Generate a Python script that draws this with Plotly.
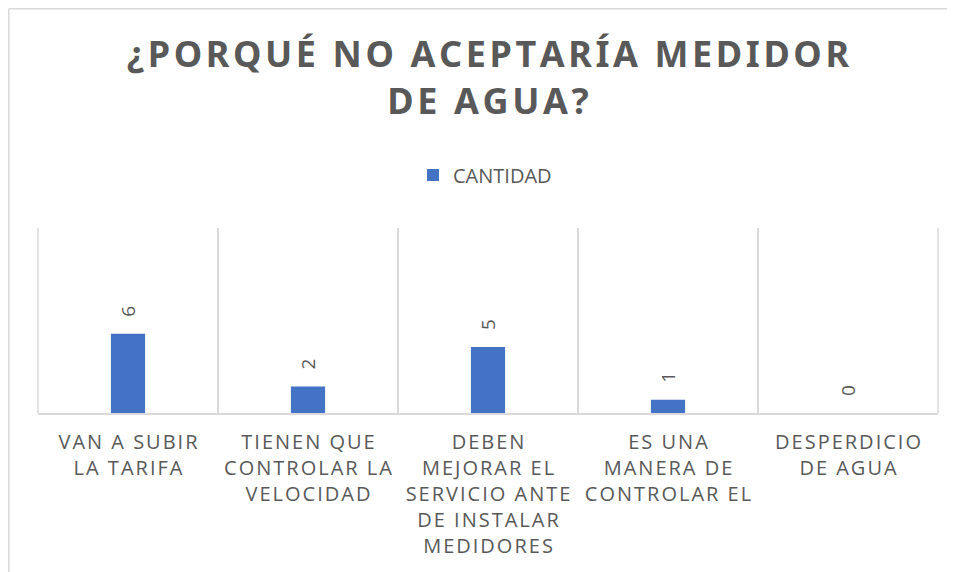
import plotly.graph_objects as go

# data
categories = [
    "VAN A SUBIR<br>LA TARIFA",
    "TIENEN QUE<br>CONTROLAR LA<br>VELOCIDAD",
    "DEBEN<br>MEJORAR EL<br>SERVICIO ANTE<br>DE INSTALAR<br>MEDIDORES",
    "ES UNA<br>MANERA DE<br>CONTROLAR EL",
    "DESPERDICIO<br>DE AGUA",
]
values = [6, 2, 5, 1, 0]
series_name = "CANTIDAD"
title_text = "¿PORQUÉ NO ACEPTARÍA MEDIDOR<br>DE AGUA?"

# the page body has an 8px margin, so the figure is drawn 8px in from the corner
W, H = 947, 564
M_L, M_R, M_T, M_B = 30, 17, 220, 159
PLOT_W = W - M_L - M_R
PLOT_H = H - M_T - M_B
TEXT = "#595959"
GRID = "#d9d9d9"
BLUE = "#4472C4"


def spaced(text, gap="\u200a"):
    """Fake letter spacing with hair spaces (plotly has no letter-spacing)."""
    return "<br>".join(gap.join(line) for line in text.split("<br>"))


def px_to_paper(px, py):
    return (px - M_L) / PLOT_W, (H - M_B - py) / PLOT_H


fig = go.Figure()

fig.add_trace(go.Bar(
    x=[spaced(c) for c in categories],
    y=values,
    name=series_name,
    marker=dict(color=BLUE, line=dict(width=0)),
    width=0.19,
    showlegend=True,
))

# rotated data labels above the bars
for c, v in zip(categories, values):
    fig.add_annotation(
        x=spaced(c), y=v, text=str(v), showarrow=False,
        textangle=-90, yanchor="middle", yshift=22,
        font=dict(family="Open Sans", size=19, color=TEXT),
    )

# outer chart border (left and top edges visible in the crop)
x0, y0 = px_to_paper(0.75, 0.75)
x1, _ = px_to_paper(W + 5, 0)
_, y1 = px_to_paper(0, H + 5)
fig.add_shape(type="line", xref="paper", yref="paper", x0=x0, y0=y0, x1=x1, y1=y0,
              line=dict(color=GRID, width=1.5))
fig.add_shape(type="line", xref="paper", yref="paper", x0=x0, y0=y0, x1=x0, y1=y1,
              line=dict(color=GRID, width=1.5))
# category boundary lines at both plot edges
for xe in (0, 1):
    fig.add_shape(type="line", xref="paper", yref="paper", x0=xe, y0=0, x1=xe, y1=1,
                  line=dict(color=GRID, width=1.5), layer="below")

fig.update_layout(
    width=W, height=H,
    margin=dict(l=M_L, r=M_R, t=M_T, b=M_B, autoexpand=False),
    paper_bgcolor="white", plot_bgcolor="white",
    title=dict(
        text=spaced(title_text),
        x=0.5, xref="paper", xanchor="center",
        y=1 - 59 / H, yref="container", yanchor="top",
        font=dict(family="Noto Sans", size=36, color=TEXT, weight="bold"),
    ),
    legend=dict(
        orientation="h", x=0.5 - 3 / PLOT_W, xanchor="center",
        y=1 + 53 / PLOT_H, yanchor="middle",
        font=dict(family="Open Sans", size=20, color=TEXT),
        itemwidth=30,
    ),
    bargap=0.81,
    showlegend=True,
)

fig.update_xaxes(
    type="category", tickson="boundaries", automargin=False,
    showgrid=True, gridcolor=GRID, gridwidth=1.5,
    showline=True, linecolor=GRID, linewidth=1.5,
    ticks="", ticklabelstandoff=10,
    tickfont=dict(family="Open Sans", size=20, color=TEXT),
    tickangle=0,
)
fig.update_yaxes(range=[0, 14], visible=False, showgrid=False, zeroline=False)

fig.write_html("out.html")
